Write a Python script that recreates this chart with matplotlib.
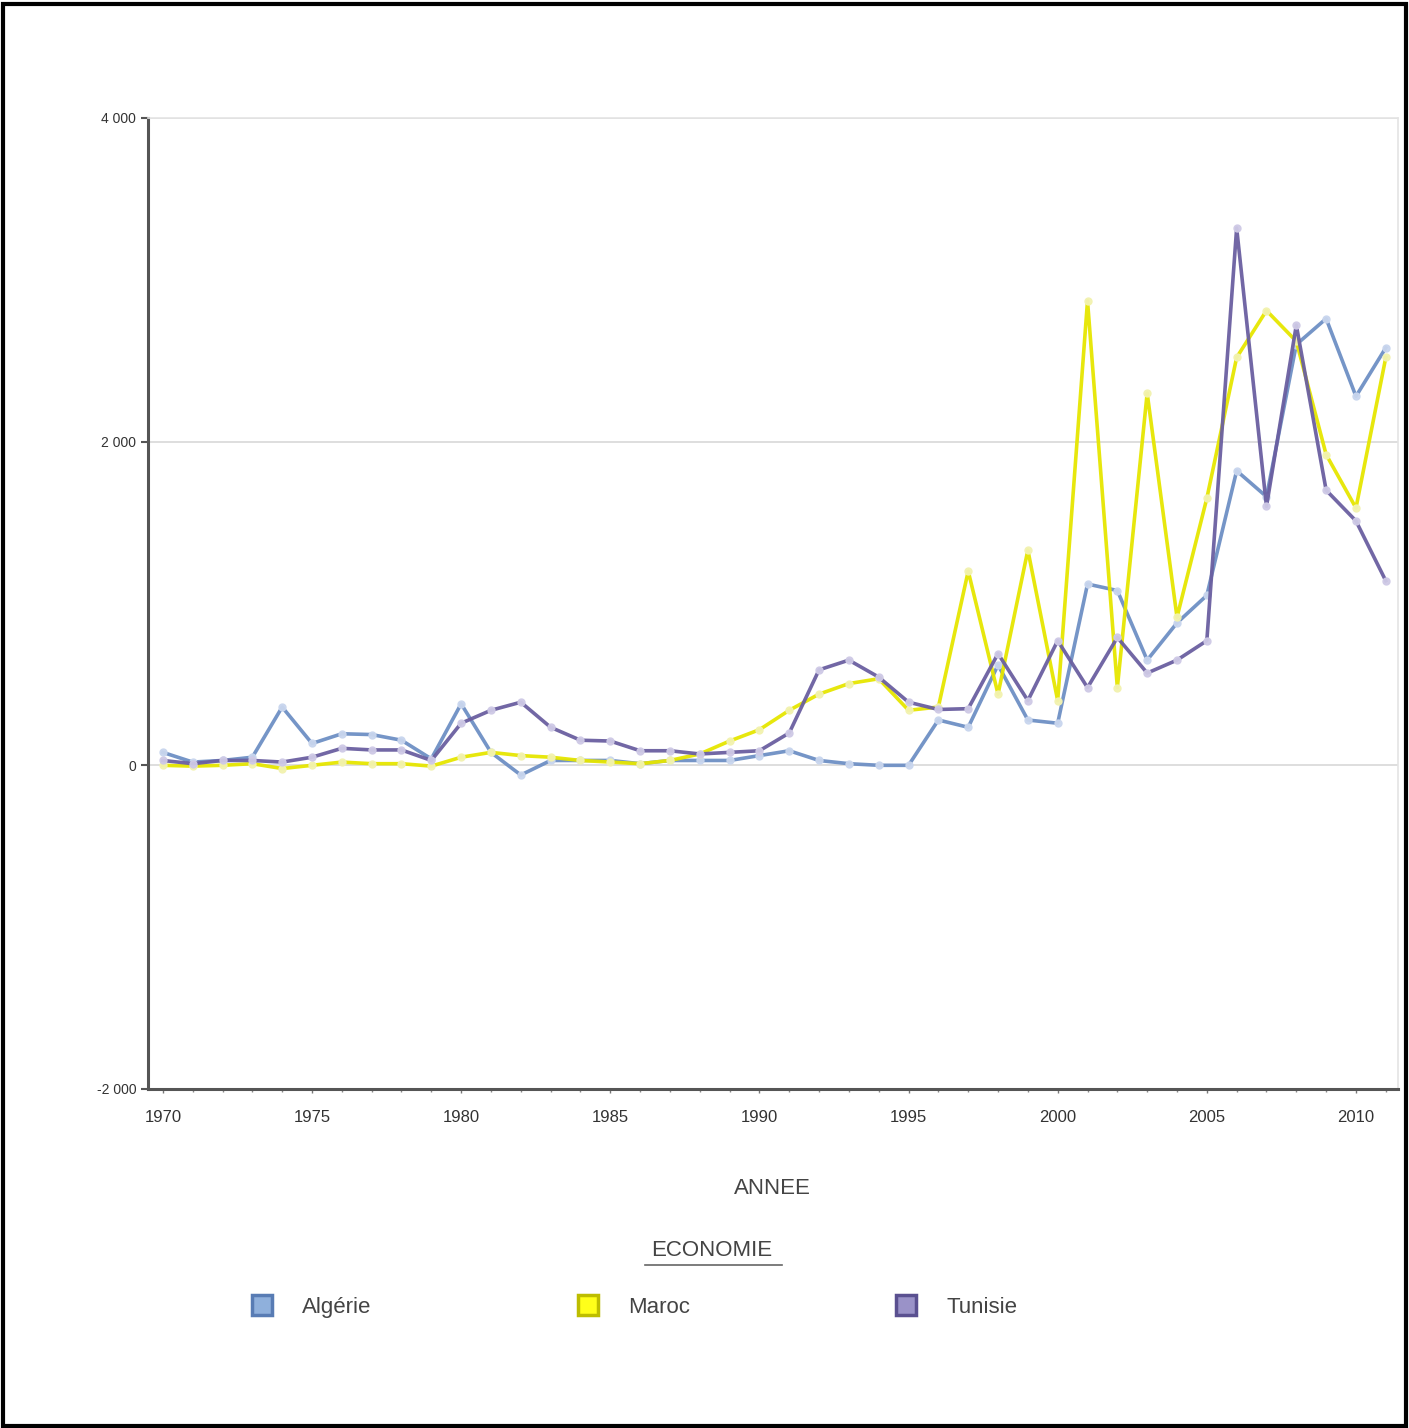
import matplotlib
matplotlib.use("Agg")
import matplotlib.pyplot as plt
from matplotlib.lines import Line2D
from matplotlib.patches import Rectangle
from matplotlib.ticker import FuncFormatter, MultipleLocator

plt.rcParams['font.family'] = ['Liberation Sans', 'DejaVu Sans']

# Data
years = list(range(1970, 2012))

algerie = [80, 20, 30, 50, 360, 135, 195, 190, 155, 40,
           380, 80, -60, 30, 30, 30, 10, 30, 30, 30,
           60, 90, 30, 10, 0, 0, 280, 235, 620, 280,
           260, 1120, 1080, 650, 880, 1050, 1820, 1660, 2600, 2760,
           2280, 2580]

maroc = [0, -5, 0, 10, -20, 0, 20, 10, 10, -5,
         50, 80, 60, 50, 30, 20, 10, 30, 70, 150,
         220, 340, 440, 505, 535, 340, 360, 1200, 440, 1330,
         400, 2870, 480, 2300, 915, 1650, 2520, 2810, 2620, 1920,
         1590, 2520]

tunisie = [30, 10, 30, 30, 20, 50, 105, 95, 95, 30,
           260, 340, 390, 235, 155, 150, 90, 90, 70, 80,
           90, 200, 590, 650, 545, 390, 345, 350, 690, 400,
           770, 480, 790, 570, 650, 770, 3320, 1600, 2720, 1700,
           1510, 1140]

series = [
    ("Algérie", algerie, "#6e8fc4", "#c9d6ee", "#8fb0dc", "#587cb4"),
    ("Maroc", maroc, "#e6e600", "#f2f2b0", "#ffff1a", "#bdbd00"),
    ("Tunisie", tunisie, "#6a5fa0", "#cfcae6", "#9a92c8", "#5a5090"),
]

fig = plt.figure(figsize=(14.09, 14.28), dpi=100)
ax = fig.add_axes([0.105, 0.2374, 0.887, 0.68])

for name, vals, col, mcol, _, _ in series:
    ax.plot(years, vals, color=col, lw=2.6, marker='o', markersize=5,
            markerfacecolor=mcol, markeredgecolor=mcol, alpha=0.95)

ax.set_xlim(1969.5, 2011.4)
ax.set_ylim(-2000, 4000)
ax.yaxis.set_major_locator(MultipleLocator(2000))
ax.xaxis.set_major_locator(MultipleLocator(5))
ax.xaxis.set_minor_locator(MultipleLocator(1))
ax.yaxis.set_major_formatter(FuncFormatter(lambda v, p: f"{int(v):,}".replace(",", " ")))

ax.grid(axis='y', color='#d8d8d8', lw=1.2)
ax.set_axisbelow(True)
for s in ['top', 'right']:
    ax.spines[s].set_color('#e4e4e4')
    ax.spines[s].set_linewidth(1.2)
for s in ['left', 'bottom']:
    ax.spines[s].set_color('#555555')
    ax.spines[s].set_linewidth(2.2)

ax.tick_params(axis='y', labelsize=10, colors='#555555', length=5, width=1.5, labelcolor='#333333')
ax.tick_params(axis='x', which='major', labelsize=12, length=3, width=1, colors='#777777',
               labelcolor='#333333', pad=12)
ax.tick_params(axis='x', which='minor', length=2, width=1, colors='#888888')

ax.set_xlabel("ANNEE", fontsize=16, color='#444444', labelpad=38)

# legend title (underlined) and entries
fig.text(0.505, 0.1246, "ECONOMIE", fontsize=16, color='#444444', ha='center', va='center')
fig.add_artist(Line2D([0.458, 0.555], [0.1141, 0.1141], color='#666666', lw=1.2))

handles = [Line2D([], [], ls='none', marker='s', markersize=15, markerfacecolor=fc,
                  markeredgecolor=ec, markeredgewidth=2.5)
           for _, _, _, _, fc, ec in series]
fig.legend(handles, [s[0] for s in series], loc='center', ncol=3,
           bbox_to_anchor=(0.446, 0.0847), frameon=False, fontsize=16,
           handletextpad=0.8, columnspacing=8.75, labelcolor='#444444')

fig.add_artist(Rectangle((0.002, 0.0015), 0.996, 0.996, transform=fig.transFigure,
                         fill=False, edgecolor='black', lw=3))

fig.savefig("out.png", dpi=100)
